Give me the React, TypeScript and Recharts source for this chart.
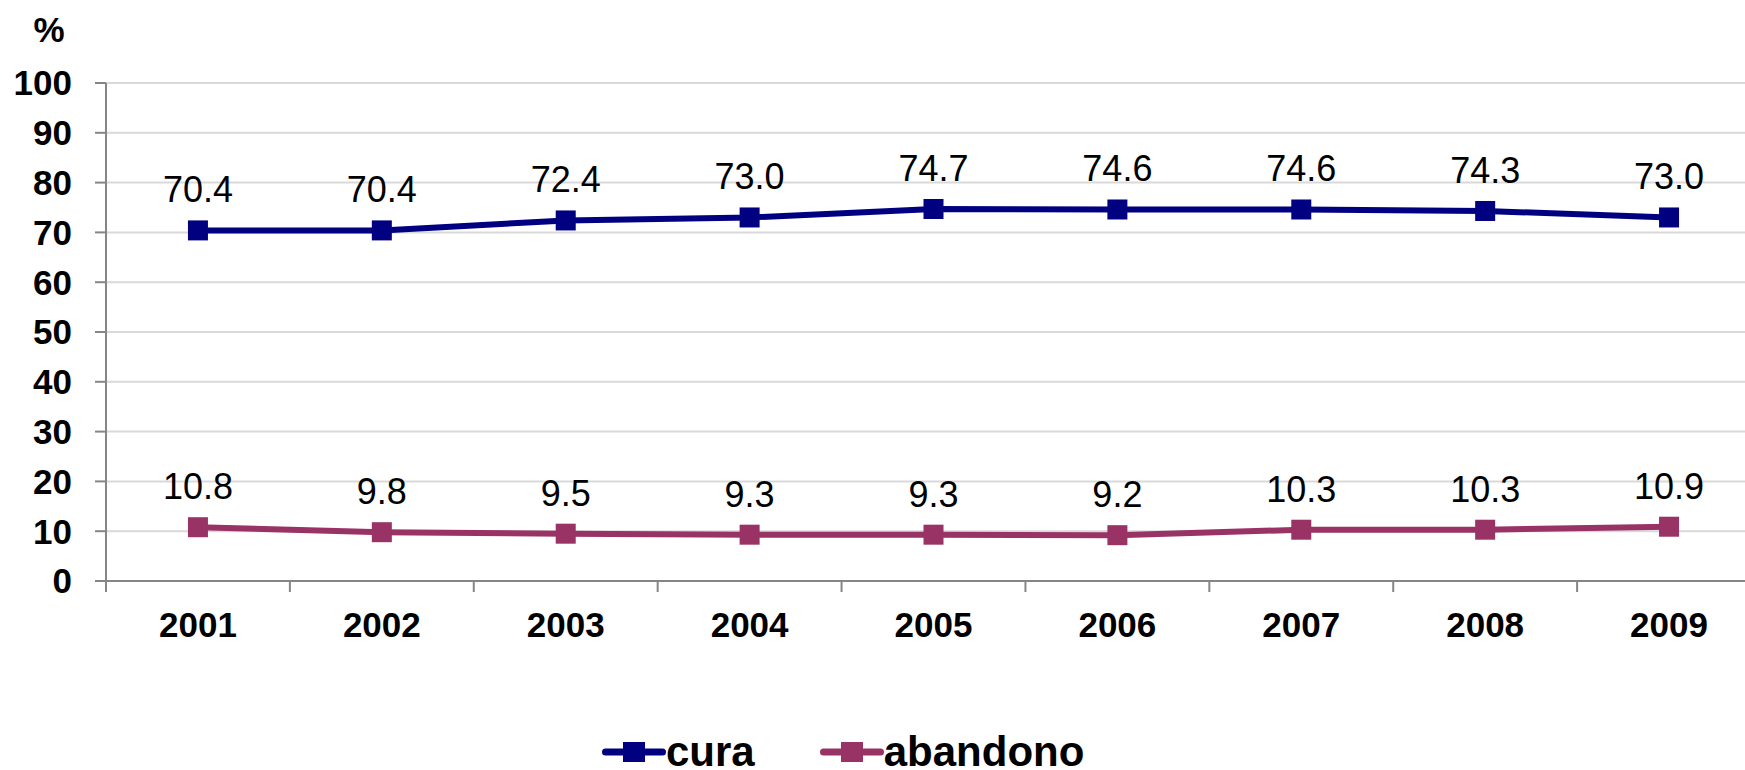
import { CartesianGrid, Label, LabelList, Legend, Line, LineChart, XAxis, YAxis } from "recharts";

const years = ["2001", "2002", "2003", "2004", "2005", "2006", "2007", "2008", "2009"];
const cura = [70.4, 70.4, 72.4, 73.0, 74.7, 74.6, 74.6, 74.3, 73.0];
const abandono = [10.8, 9.8, 9.5, 9.3, 9.3, 9.2, 10.3, 10.3, 10.9];
const yTicks = [0, 10, 20, 30, 40, 50, 60, 70, 80, 90, 100];

const series = [
  { key: "cura", name: "cura", color: "#000080" },
  { key: "abandono", name: "abandono", color: "#993366" },
];

const data = years.map((year, i) => ({ year, cura: cura[i], abandono: abandono[i] }));

const FONT = '"Liberation Sans", Arial, sans-serif';
const AXIS = "#868686";
const X_TICK_MARGIN = 31;

const squareDot = (color: string) => (props: any) => {
  const { cx, cy, index } = props;
  if (cx == null || cy == null) return <g key={index} />;
  return <rect key={index} x={cx - 10} y={cy - 10} width={20} height={20} fill={color} />;
};

// year label at band centre, tick mark at the band's left boundary (excel style)
const YearTick = (props: any) => {
  const { x, y, payload, index } = props;
  const half = payload && payload.offset ? payload.offset : 0;
  const axisY = y - X_TICK_MARGIN;
  return (
    <g>
      <line x1={x - half} x2={x - half} y1={axisY} y2={axisY + 11} stroke={AXIS} strokeWidth={2} />
      {index === years.length - 1 && (
        <line x1={x + half} x2={x + half} y1={axisY} y2={axisY + 11} stroke={AXIS} strokeWidth={2} />
      )}
      <text x={x} y={y} dy="0.71em" textAnchor="middle" fill="#000" fontSize={35} fontWeight={700} fontFamily={FONT}>
        {payload.value}
      </text>
    </g>
  );
};

const LegendContent = () => (
  <div style={{ display: "flex", alignItems: "center", fontFamily: FONT, fontWeight: 700, fontSize: 42 }}>
    {series.map((s, i) => (
      <div key={s.key} style={{ display: "flex", alignItems: "center", marginRight: i === 0 ? 65 : 0 }}>
        <svg width={64} height={24}>
          <line x1={3.5} y1={12} x2={60.5} y2={12} stroke={s.color} strokeWidth={7} strokeLinecap="round" />
          <rect x={21} y={2} width={22} height={20} fill={s.color} />
        </svg>
        <span style={{ color: "#000", lineHeight: "30px" }}>{s.name}</span>
      </div>
    ))}
  </div>
);

const App = () => {
  return (
    <div style={{ position: "fixed", left: 0, top: 0, width: 1745, height: 770, overflow: "hidden", background: "#fff", fontFamily: FONT }}>
      <LineChart width={1765} height={770} data={data} margin={{ top: 83, right: 4, left: 0, bottom: 129 }}>
        <CartesianGrid horizontal vertical={false} stroke="#d9d9d9" strokeWidth={2} />
        <XAxis
          dataKey="year"
          scale="band"
          tickLine={false}
          tickSize={0}
          tickMargin={X_TICK_MARGIN}
          height={60}
          interval={0}
          axisLine={{ stroke: AXIS, strokeWidth: 2 }}
          tick={<YearTick />}
        />
        <YAxis
          domain={[0, 100]}
          ticks={yTicks}
          width={106}
          tickSize={11}
          tickMargin={23}
          axisLine={{ stroke: AXIS, strokeWidth: 2 }}
          tickLine={{ stroke: AXIS, strokeWidth: 2 }}
          tick={{ fill: "#000", fontSize: 35, fontWeight: 700, fontFamily: FONT }}
        >
          <Label
            content={(props: any) => {
              const vb = props.viewBox || { x: 0, y: 83 };
              return (
                <text x={vb.x + 49} y={vb.y - 41} textAnchor="middle" fontSize={35} fontWeight={700} fontFamily={FONT} fill="#000">
                  %
                </text>
              );
            }}
          />
        </YAxis>
        <Legend verticalAlign="middle" layout="horizontal" wrapperStyle={{ top: 737, left: 602, width: "auto" }} content={<LegendContent />} />
        {series.map((s) => (
          <Line
            key={s.key}
            dataKey={s.key}
            name={s.name}
            stroke={s.color}
            strokeWidth={6}
            dot={squareDot(s.color)}
            activeDot={false}
            isAnimationActive={false}
          >
            <LabelList
              dataKey={s.key}
              position="top"
              offset={28}
              fill="#000"
              fontSize={36}
              fontFamily={FONT}
              formatter={(v: any) => Number(v).toFixed(1)}
            />
          </Line>
        ))}
      </LineChart>
    </div>
  );
};

export default App;
